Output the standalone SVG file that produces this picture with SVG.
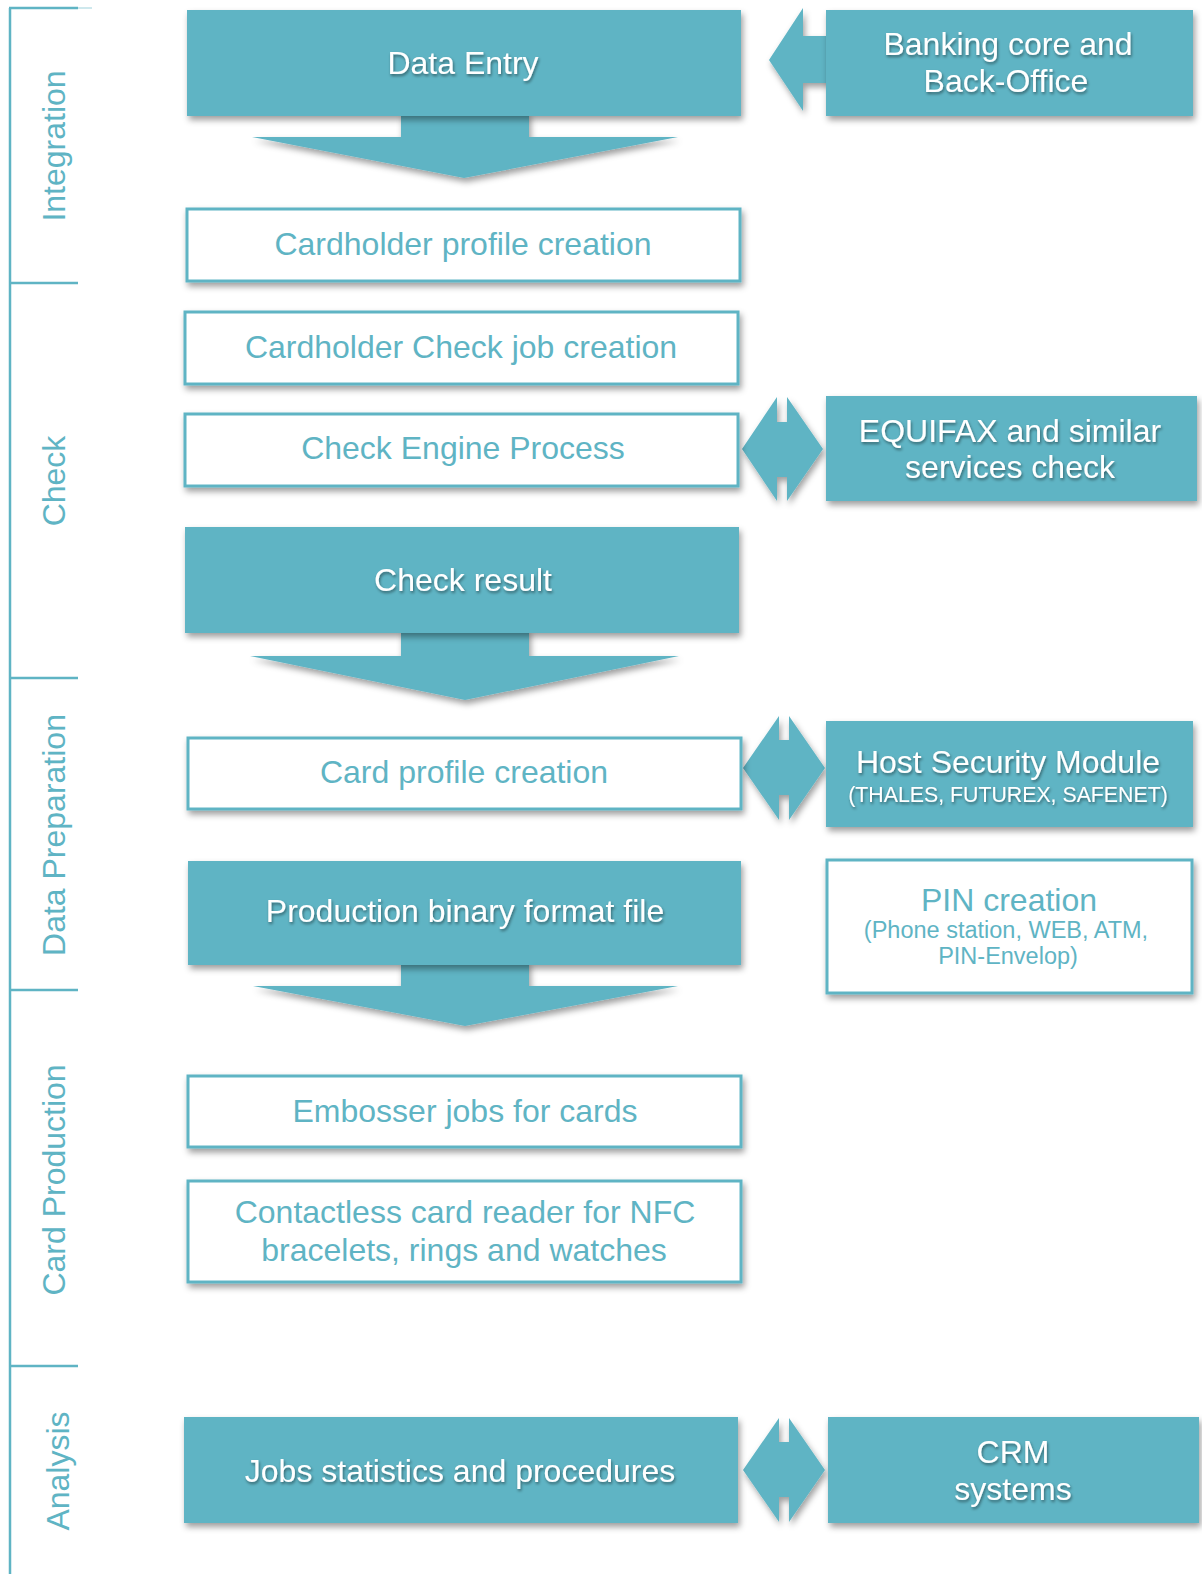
<svg xmlns="http://www.w3.org/2000/svg" width="1202" height="1574" viewBox="0 0 1202 1574">
<defs>
<filter id="sh" x="-10%" y="-20%" width="125%" height="150%">
<feDropShadow dx="2" dy="4" stdDeviation="3" flood-color="#000" flood-opacity="0.38"/>
</filter>
<filter id="tsh" x="-10%" y="-30%" width="120%" height="170%">
<feDropShadow dx="1" dy="2" stdDeviation="1.5" flood-color="#000" flood-opacity="0.45"/>
</filter>
<style>
.fill{fill:#5FB4C4;filter:url(#sh);}
.out{fill:#fff;stroke:#5FB4C4;stroke-width:3;filter:url(#sh);}
.arr{fill:#5FB4C4;filter:url(#sh);}
.wt{fill:#fff;font-family:"Liberation Sans",Arial,Helvetica,sans-serif;font-size:32px;text-anchor:middle;filter:url(#tsh);}
.tt{fill:#5FB4C4;font-family:"Liberation Sans",Arial,Helvetica,sans-serif;font-size:32px;text-anchor:middle;}
.sm{font-size:21.3px;}
.sm2{font-size:23.5px;}
.lane{fill:#5FB4C4;font-family:"Liberation Sans",Arial,Helvetica,sans-serif;font-size:32px;text-anchor:middle;}
.br{stroke:#5FB4C4;stroke-width:2.5;fill:none;}
</style>
</defs>
<rect width="1202" height="1574" fill="#fff"/>

<g id="lanes">
<line class="br" x1="10" y1="8" x2="10" y2="1574"/>
<line class="br" x1="9" y1="8" x2="78" y2="8"/>
<line x1="78" y1="8" x2="92" y2="8" stroke="#5FB4C4" stroke-width="1.5" opacity="0.4"/>
<line class="br" x1="9" y1="283" x2="78" y2="283"/>
<line class="br" x1="9" y1="678" x2="78" y2="678"/>
<line class="br" x1="9" y1="990" x2="78" y2="990"/>
<line class="br" x1="9" y1="1366" x2="78" y2="1366"/>
<text class="lane" transform="translate(65,146) rotate(-90)">Integration</text>
<text class="lane" transform="translate(65,481) rotate(-90)">Check</text>
<text class="lane" transform="translate(65,835) rotate(-90)">Data Preparation</text>
<text class="lane" transform="translate(65,1180) rotate(-90)">Card Production</text>
<text class="lane" transform="translate(69,1471) rotate(-90)">Analysis</text>
</g>

<g id="connectors">
<polygon class="arr" points="401,112 529,112 529,137 678,137 464,178 252,137 401,137"/>
<polygon class="arr" points="401,629 529,629 529,656 679,656 465,700 250,656 401,656"/>
<polygon class="arr" points="401,961 529,961 529,986 678,986 465,1026 253,986 401,986"/>
<polygon class="arr" points="769,60 803,8 803,36 830,36 830,83 803,83 803,111"/>
<polygon class="arr" points="742,449 777,397 777,422 787,422 787,397 823,449 787,501 787,477 777,477 777,501"/>
<polygon class="arr" points="743,768 779,716 779,740 789,740 789,716 825,768 789,820 789,795 779,795 779,820"/>
<polygon class="arr" points="743,1470 779,1418 779,1442 789,1442 789,1418 825,1470 789,1522 789,1497 779,1497 779,1522"/>
</g>

<g id="data-entry">
<rect class="fill" x="187" y="10" width="554" height="106"/>
<text class="wt" x="463" y="74">Data Entry</text>
</g>
<g id="banking-core">
<rect class="fill" x="826" y="10" width="367" height="106"/>
<text class="wt" x="1008" y="55">Banking core and</text>
<text class="wt" x="1006" y="92">Back-Office</text>
</g>
<g id="cardholder-profile">
<rect class="out" x="187" y="209" width="553" height="72"/>
<text class="tt" x="463" y="255">Cardholder profile creation</text>
</g>
<g id="cardholder-check">
<rect class="out" x="185" y="312" width="553" height="72"/>
<text class="tt" x="461" y="358">Cardholder Check job creation</text>
</g>
<g id="check-engine">
<rect class="out" x="185" y="414" width="553" height="72"/>
<text class="tt" x="463" y="459">Check Engine Process</text>
</g>
<g id="equifax">
<rect class="fill" x="826" y="396" width="371" height="105"/>
<text class="wt" x="1010" y="442">EQUIFAX and similar</text>
<text class="wt" x="1010" y="478">services check</text>
</g>
<g id="check-result">
<rect class="fill" x="185" y="527" width="554" height="106"/>
<text class="wt" x="463" y="591">Check result</text>
</g>
<g id="card-profile">
<rect class="out" x="188" y="738" width="553" height="71"/>
<text class="tt" x="464" y="783">Card profile creation</text>
</g>
<g id="hsm">
<rect class="fill" x="826" y="721" width="367" height="106"/>
<text class="wt" x="1008" y="773">Host Security Module</text>
<text class="wt sm" x="1008" y="802">(THALES, FUTUREX, SAFENET)</text>
</g>
<g id="production-binary">
<rect class="fill" x="188" y="861" width="553" height="104"/>
<text class="wt" x="465" y="922">Production binary format file</text>
</g>
<g id="pin-creation">
<rect class="out" x="827" y="860" width="365" height="133"/>
<text class="tt" x="1009" y="911">PIN creation</text>
<text class="tt sm2" x="1006" y="938">(Phone station, WEB, ATM,</text>
<text class="tt sm2" x="1008" y="964">PIN-Envelop)</text>
</g>
<g id="embosser">
<rect class="out" x="188" y="1076" width="553" height="71"/>
<text class="tt" x="465" y="1122">Embosser jobs for cards</text>
</g>
<g id="contactless">
<rect class="out" x="188" y="1181" width="553" height="101"/>
<text class="tt" x="465" y="1223">Contactless card reader for NFC</text>
<text class="tt" x="464" y="1261">bracelets, rings and watches</text>
</g>
<g id="jobs-statistics">
<rect class="fill" x="184" y="1417" width="554" height="106"/>
<text class="wt" x="460" y="1482">Jobs statistics and procedures</text>
</g>
<g id="crm">
<rect class="fill" x="828" y="1417" width="371" height="106"/>
<text class="wt" x="1013" y="1463">CRM</text>
<text class="wt" x="1013" y="1500">systems</text>
</g>
</svg>
